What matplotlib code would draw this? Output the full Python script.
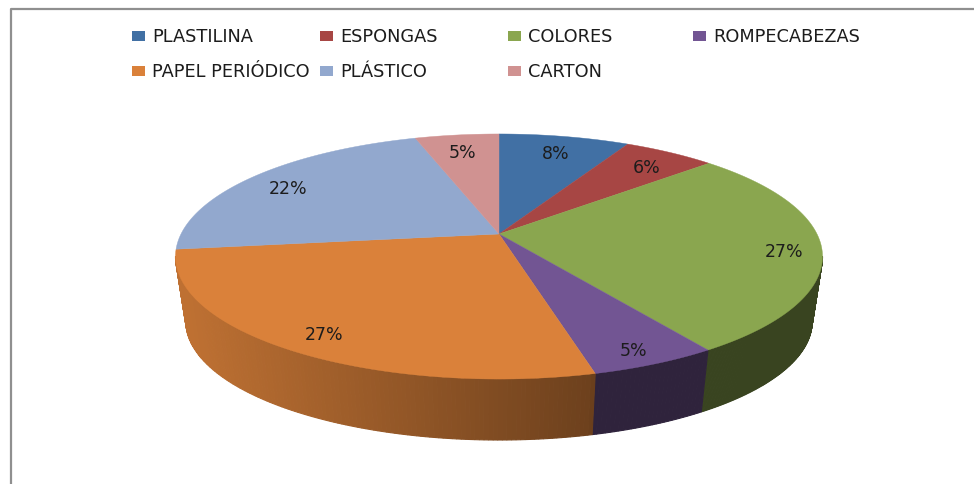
import numpy as np
import matplotlib
matplotlib.use('Agg')
import matplotlib.pyplot as plt
from matplotlib.patches import Polygon, Rectangle

plt.rcParams['font.family'] = ['DejaVu Sans']

# datos
categorias = ['PLASTILINA', 'ESPONGAS', 'COLORES', 'ROMPECABEZAS',
              'PAPEL PERIÓDICO', 'PLÁSTICO', 'CARTON']
valores = [7.8, 5.5, 27.3, 5.4, 27, 22, 5]
colores = ['#4170A4', '#A74644', '#8AA64F', '#725593',
           '#DA813A', '#92A8CE', '#D09291']

K = 0.1837  # fuerza de la perspectiva


# proyeccion en perspectiva del disco (en pixeles de la imagen)
def proyectar(theta, r=1.0, escala=1.0, caida=0.0):
    u = r * np.sin(theta)
    v = r * np.cos(theta)
    w = 1 + K * v
    return 499 + escala * 318 * u / w, 235 + caida - escala * 118.4 * v / w


def sombra(x):
    return np.interp(x, [186, 592, 600, 820], [0.87, 0.5, 0.41, 0.41])


fig = plt.figure(figsize=(9.74, 4.85), dpi=100)
ax = fig.add_axes([0, 0, 1, 1])
ax.set_xlim(0, 974)
ax.set_ylim(485, 0)
ax.axis('off')

# marco
ax.plot([10.5, 10.5, 974], [485, 9.5, 9.5], color='#8F8F8F', lw=1.6)

total = sum(valores)
limites = 2 * np.pi * np.cumsum([0] + valores) / total

# pared lateral: solo la parte de delante, entre las dos tangentes
t_ini = np.arccos(-K)
t_fin = 2 * np.pi - t_ini
for i, color in enumerate(colores):
    ini = max(limites[i], t_ini)
    fin = min(limites[i + 1], t_fin)
    if ini >= fin:
        continue
    rgb = np.array(matplotlib.colors.to_rgb(color))
    ts = np.linspace(ini, fin, max(int(valores[i] * 5), 4) + 1)
    for a, b in zip(ts[:-1], ts[1:]):
        xa, ya = proyectar(a)
        xb, yb = proyectar(b)
        xc, yc = proyectar(b, escala=0.968, caida=65.6)
        xd, yd = proyectar(a, escala=0.968, caida=65.6)
        # el color de cada trozo sale de su porcion, no del vecino
        c = rgb * (0.41 if i == 3 else sombra((xa + xb) / 2))
        ax.add_patch(Polygon([(xa, ya), (xb, yb), (xc, yc), (xd, yd)],
                             facecolor=c, edgecolor=c, lw=0.8, zorder=2))

# cara superior
for i, color in enumerate(colores):
    ts = np.linspace(limites[i], limites[i + 1], 80)
    xs, ys = proyectar(ts)
    pts = [(499, 235)] + list(zip(xs, ys))
    ax.add_patch(Polygon(pts, facecolor=color, edgecolor=color, lw=0.3, zorder=3))

# porcentajes
radios = [0.85, 0.85, 0.885, 0.88, 0.85, 0.85, 0.85]
for i, val in enumerate(valores):
    x, y = proyectar((limites[i] + limites[i + 1]) / 2, r=radios[i], caida=4)
    ax.text(x, y, f'{val / total * 100:.0f}%', ha='center', va='center',
            fontsize=12.5, color='#1C1C1C', zorder=4)

# leyenda
col_x = [132, 320, 508, 693]
fila_y = [37, 72]
for i, (nombre, color) in enumerate(zip(categorias, colores)):
    x = col_x[i % 4]
    y = fila_y[i // 4]
    ax.add_patch(Rectangle((x, y - 5), 13, 10, facecolor=color, edgecolor='none'))
    ax.text(x + 20, y, nombre, ha='left', va='center', fontsize=12.8, color='#1C1C1C')

fig.savefig('out.png', dpi=100)
